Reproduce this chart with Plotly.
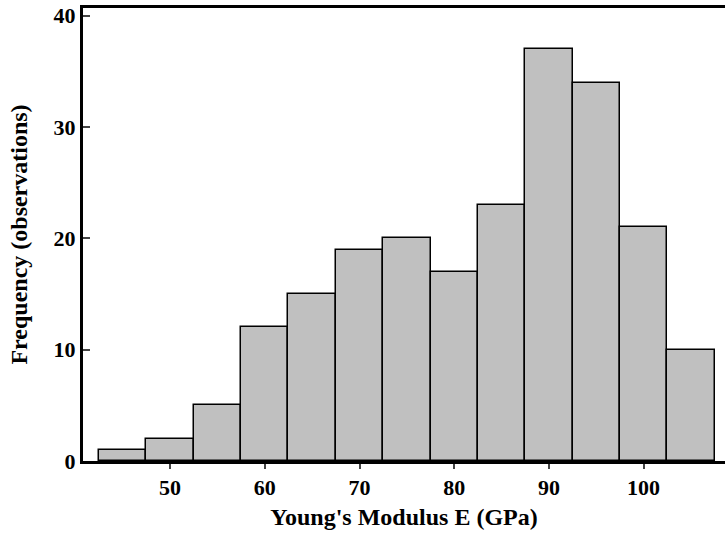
import plotly.graph_objects as go

bin_centers = [45, 50, 55, 60, 65, 70, 75, 80, 85, 90, 95, 100, 105]
frequencies = [1, 2, 5, 12, 15, 19, 20, 17, 23, 37, 34, 21, 10]
x_ticks = [50, 60, 70, 80, 90, 100]
y_ticks = [0, 10, 20, 30, 40]

font_family = "Liberation Serif"

fig = go.Figure(go.Bar(
    x=bin_centers, y=frequencies, width=5,
    marker=dict(color="#c0c0c0", line=dict(color="black", width=1.5)),
))

fig.update_layout(
    width=725, height=533,
    margin=dict(l=83, r=0, t=8, b=72),
    plot_bgcolor="white", paper_bgcolor="white",
    showlegend=False,
    font=dict(family=font_family, color="black", size=22, weight="bold"),
    bargap=0,
)
fig.update_xaxes(
    range=[40.8, 108.6], tickvals=x_ticks, ticks="outside", ticklen=5, tickwidth=2,
    showline=True, linewidth=3, linecolor="black", mirror=True, showgrid=False, zeroline=False,
    tickfont=dict(family=font_family, size=22, weight="bold"),
    title=dict(text="Young's Modulus E (GPa)", font=dict(family=font_family, size=24, weight="bold"), standoff=9),
)
fig.update_yaxes(
    range=[0, 40.7], tickvals=y_ticks, ticks="inside", ticklen=7, tickwidth=2,
    showline=True, linewidth=3, linecolor="black", showgrid=False, zeroline=False,
    tickfont=dict(family=font_family, size=22, weight="bold"),
    title=dict(text="Frequency (observations)", font=dict(family=font_family, size=24, weight="bold"), standoff=20),
)
fig.write_html("out.html")
